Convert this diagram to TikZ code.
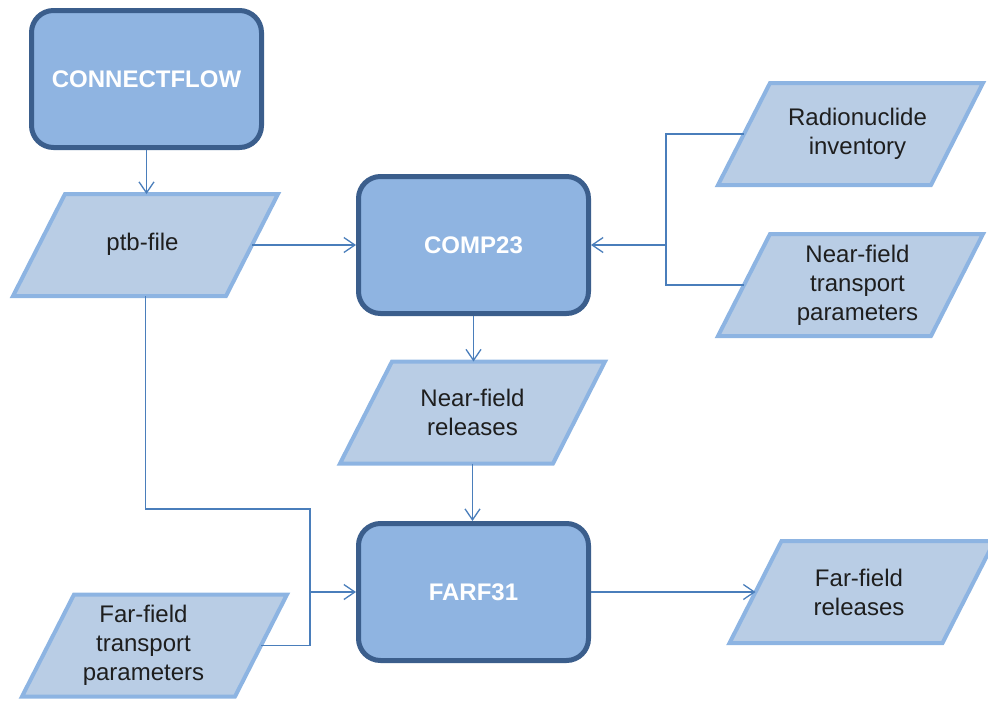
\documentclass[tikz,border=0pt]{standalone}
\usepackage{fontspec}
\setmainfont{Liberation Sans}
\usetikzlibrary{arrows.meta,backgrounds}
\definecolor{boxfill}{HTML}{8FB4E1}
\definecolor{boxline}{HTML}{3B5E8C}
\definecolor{datafill}{HTML}{B9CDE5}
\definecolor{dataline}{HTML}{8DB4E2}
\definecolor{connline}{HTML}{4A7EBB}
\definecolor{txt}{HTML}{1E1E1E}
\begin{document}
\begin{tikzpicture}[x=1pt,y=-1pt,
  proc/.style={draw=boxline, fill=boxfill, line width=5pt, rounded corners=22pt,
    minimum width=230pt, minimum height=137pt, text=white, inner sep=0pt,
    font=\fontsize{24}{29}\selectfont\bfseries},
  data/.style={rectangle, minimum width=213pt, minimum height=102pt,
    inner sep=0pt, outer sep=0pt,
    append after command={\pgfextra{\begin{pgfonlayer}{background}
      \draw[draw=dataline, fill=datafill, line width=4pt]
        ([xshift=26pt]\tikzlastnode.north west) -- ([xshift=26pt]\tikzlastnode.north east)
        -- ([xshift=-26pt]\tikzlastnode.south east) -- ([xshift=-26pt]\tikzlastnode.south west)
        -- cycle;
      \end{pgfonlayer}}}},
  dtext/.style={align=center, text=txt, inner sep=0pt,
    font=\fontsize{24}{29}\selectfont},
  conn/.style={draw=connline, line width=1.3pt},
  arr/.style={conn, -{Straight Barb[length=11pt,width=15pt]}}]
\useasboundingbox (0,0) rectangle (988,702);
\node[proc] (cf) at (146.5,79) {CONNECTFLOW};
\node[proc] (comp) at (473.5,245) {COMP23};
\node[proc] (farf) at (473.5,592) {FARF31};
\node[data, label={[dtext, xshift=-3pt, yshift=1pt]center:ptb-file}] (ptb) at (145.5,245) {};
\node[data, label={[dtext, xshift=7pt]center:Radionuclide\\inventory}] (rad) at (850.5,134) {};
\node[data, label={[dtext, xshift=7pt]center:Near-field\\transport\\parameters}] (nft) at (850.5,285) {};
\node[data, label={[dtext]center:Near-field\\releases}] (nfr) at (472.5,412.5) {};
\node[data, label={[dtext, xshift=-11pt]center:Far-field\\transport\\parameters}] (fft) at (154.5,645.5) {};
\node[data, label={[dtext, xshift=-3pt]center:Far-field\\releases}] (ffr) at (862,592) {};
\coordinate (bus) at (666,245);
\coordinate (j1) at (310,509);
\coordinate (j2) at (310,592);
\draw[arr] (cf.south) -- (cf.south |- ptb.north);
\draw[arr] (ptb.east) -- (comp.west);
\draw[conn] (rad.west) -| (bus) |- (nft.west);
\draw[arr] (bus) -- (comp.east);
\draw[arr] (comp.south) -- (comp.south |- nfr.north);
\draw[arr] (nfr.south) -- (nfr.south |- farf.north);
\draw[conn] (ptb.south) |- (j1) |- (fft.east);
\draw[arr] (j2) -- (farf.west);
\draw[arr] (farf.east) -- (ffr.west);
\end{tikzpicture}
\end{document}
